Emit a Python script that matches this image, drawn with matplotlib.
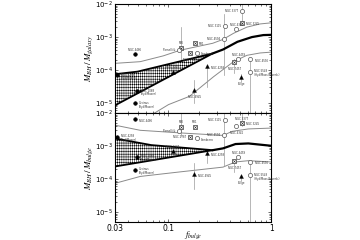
#!/usr/bin/env python3
"""Black hole to galaxy / bulge mass ratio versus bulge fraction (two stacked panels)."""

import matplotlib
matplotlib.use("Agg")
import matplotlib.pyplot as plt
import numpy as np

plt.rcParams["mathtext.fontset"] = "stix"
plt.rcParams["hatch.linewidth"] = 0.35

# ---- model curves, top panel (M_BH / M_galaxy) ----
top_upper_f = [0.03, 0.053, 0.089, 0.13, 0.27, 0.34, 0.43, 0.58, 0.78, 1.0]
top_upper_m = [1.6e-4, 1.8e-4, 2.7e-4, 4.0e-4, 6.5e-4, 8.5e-4, 1.3e-3, 2.0e-3, 2.5e-3, 2.7e-3]
top_lower_f = [0.065, 0.1, 0.16, 0.275, 0.43, 0.58, 0.78, 1.0]
top_lower_m = [4.0e-6, 9.0e-6, 1.6e-5, 6.3e-5, 1.8e-4, 2.8e-4, 3.3e-4, 3.5e-4]
top_thick_f = [0.27, 0.34, 0.47, 0.65, 0.84, 1.0]
top_thick_m = [3.2e-4, 4.2e-4, 7.2e-4, 1.0e-3, 1.15e-3, 1.17e-3]
top_hatch_f = [0.03, 0.05, 0.27, 0.03]
top_hatch_m = [7.5e-5, 9.0e-5, 3.2e-4, 8.5e-6]

# ---- model curves, bottom panel (M_BH / M_bulge) ----
bot_upper_f = [0.03, 0.053, 0.13, 0.34, 0.42, 0.6, 1.0]
bot_upper_m = [4.3e-3, 3.0e-3, 2.5e-3, 2.1e-3, 2.8e-3, 3.3e-3, 3.5e-3]
bot_lower_f = [0.03, 0.053, 0.13, 0.34, 0.45, 0.6, 1.0]
bot_lower_m = [7.4e-5, 1.2e-4, 1.65e-4, 2.3e-4, 3.3e-4, 3.6e-4, 3.3e-4]
bot_thick_f = [0.27, 0.34, 0.45, 0.6, 1.0]
bot_thick_m = [7.5e-4, 8.5e-4, 1.15e-3, 1.2e-3, 1.02e-3]
bot_hatch_f = [0.03, 0.068, 0.27, 0.03]
bot_hatch_m = [1.7e-3, 1.07e-3, 7.5e-4, 2.4e-4]

# ---- galaxies ----
names = ["NGC 4486", "NGC 4258\n(Hyd/Maser)", "NGC 1068\n(Hyd/Maser)", "Circinus\n(Hyd/Maser)",
         "NGC 3227", "MW", "Pomelli &", "M81", "NGC 2787", "Sombrero", "NGC 4258", "NGC 4945",
         "NGC 4594", "NGC 3115", "NGC 4342", "NGC 3245", "NGC 3377", "NGC 4459", "NGC 7457",
         "NGC 4596", "NGC 5548\n(Hyd/Mass Reverb.)", "Bulge"]
kinds = ["fc", "fc", "fc", "fc", "tri", "bx", "oc", "bx", "bx", "oc", "tri", "tri",
         "oc", "oc", "oc", "bx", "oc", "oc", "bx", "oc", "oc", "tri"]
f_bulge = [0.047, 0.0314, 0.049, 0.0467, 0.11, 0.132, 0.127, 0.181, 0.162, 0.19, 0.237, 0.178,
           0.347, 0.356, 0.46, 0.52, 0.52, 0.48, 0.44, 0.63, 0.62, 0.51]
m_gal = [3.0e-4, 7.1e-5, 2.3e-5, 9.8e-6, 9.0e-5, 4.8e-4, 4.2e-4, 6.8e-4, 3.2e-4, 3.3e-4, 1.3e-4, 2.5e-5,
         8.5e-4, 2.1e-3, 1.7e-3, 2.7e-3, 6.3e-3, 2.1e-4, 1.7e-4, 2.1e-4, 8.9e-5, 6.0e-5]
m_gal_lo = [None, None, None, None, None, 2.0e-4, None, None, None, None, 3.0e-5, 1.0e-5,
            7.0e-5, None, None, None, 3.0e-3, None, 8.0e-5, None, 4.0e-6, 4.5e-5]
m_gal_hi = [None, None, None, None, None, 2.0e-3, None, None, None, None, 1.3e-4, 5.0e-5,
            5.0e-3, None, None, None, 1.0e-2, None, 2.2e-4, None, 2.1e-4, 7.5e-5]
m_bul = [6.4e-3, 1.9e-3, 4.8e-4, 1.9e-4, 7.0e-4, 3.9e-3, 2.8e-3, 3.9e-3, 1.9e-3, 1.7e-3, 6.0e-4, 1.4e-4,
         2.1e-3, 6.1e-3, 4.0e-3, 5.1e-3, 5.1e-3, 4.5e-4, 3.5e-4, 3.3e-4, 1.3e-4, 1.2e-4]
m_bul_lo = [None, None, None, None, None, 2.0e-3, None, None, None, None, 3.0e-4, 5.0e-5,
            2.5e-4, None, None, None, 4.0e-3, None, 1.6e-4, None, 4.0e-6, 9.0e-5]
m_bul_hi = [None, None, None, None, None, 1.0e-2, None, None, None, None, 6.0e-4, 3.0e-4,
            1.0e-2, None, None, None, 1.0e-2, None, 3.5e-4, None, 3.3e-4, 1.2e-4]

# label placement (r = right, l = left, a = above, b = below)
side_top = ["a", "r", "r", "r", "a", "a", "l", "r", "b", "r", "r", "b",
            "l", "l", "a", "r", "l", "a", "b", "r", "r", "b"]
side_bot = ["r", "r", "r", "r", "a", "a", "l", "a", "l", "r", "r", "r",
            "l", "l", "b", "r", "a", "a", "b", "r", "r", "b"]

MARKERS = {
    "fc": dict(marker="o", ms=2.6, mfc="black", mec="black", mew=0.4),
    "oc": dict(marker="o", ms=3.0, mfc="white", mec="#555555", mew=0.5),
    "tri": dict(marker="^", ms=2.8, mfc="black", mec="black", mew=0.3),
    "bx": dict(marker="s", ms=2.8, mfc="white", mec="#333333", mew=0.5),
}
OFFSETS = {"r": (3, -1, "left"), "l": (-3, 0, "right"), "a": (0, 3, "center"), "b": (0, -5, "center")}


def draw_panel(ax, upper, lower, thick, hatch, m, lo, hi, sides):
    ax.set_xscale("log")
    ax.set_yscale("log")
    ax.set_xlim(0.03, 1.0)
    ax.set_ylim(5e-6, 1e-2)

    ax.fill(hatch[0], hatch[1], facecolor="white", edgecolor="black",
            hatch="|" * 8 + "-" * 6, lw=1.3, zorder=2)
    ax.plot(upper[0], upper[1], color="#8a8a8a", lw=0.7, zorder=1)
    ax.plot(lower[0], lower[1], color="#8a8a8a", lw=0.7, zorder=1)
    ax.plot(thick[0], thick[1], color="black", lw=1.6, zorder=3)

    for i, name in enumerate(names):
        if lo[i] is not None:
            ax.plot([f_bulge[i], f_bulge[i]], [lo[i], hi[i]], color="#9a9a9a", lw=0.5, zorder=1)
        ax.plot(f_bulge[i], m[i], ls="none", zorder=4, **MARKERS[kinds[i]])
        if kinds[i] == "bx":
            ax.plot(f_bulge[i], m[i], ls="none", marker="x", ms=1.8, mec="#333333", mew=0.4, zorder=5)
        dx, dy, ha = OFFSETS[sides[i]]
        ax.annotate(name, (f_bulge[i], m[i]), xytext=(dx, dy), textcoords="offset points",
                    fontsize=1.9, ha=ha, va="center", color="#333333", linespacing=0.9, zorder=5)

    ax.tick_params(which="both", direction="in", top=True, right=True, width=0.4)
    ax.tick_params(which="major", length=2.5, labelsize=5, pad=1.5)
    ax.tick_params(which="minor", length=1.3)
    for s in ax.spines.values():
        s.set_linewidth(0.8)


fig = plt.figure(figsize=(3.6, 2.4), dpi=100)
ax_top = fig.add_axes([0.319, 0.529, 0.434, 0.454])
ax_bot = fig.add_axes([0.319, 0.075, 0.434, 0.454])

draw_panel(ax_top, (top_upper_f, top_upper_m), (top_lower_f, top_lower_m),
           (top_thick_f, top_thick_m), (top_hatch_f, top_hatch_m),
           m_gal, m_gal_lo, m_gal_hi, side_top)
draw_panel(ax_bot, (bot_upper_f, bot_upper_m), (bot_lower_f, bot_lower_m),
           (bot_thick_f, bot_thick_m), (bot_hatch_f, bot_hatch_m),
           m_bul, m_bul_lo, m_bul_hi, side_bot)

for ax in (ax_top, ax_bot):
    ax.set_xticks([0.03, 0.1, 1.0])
    ax.set_yticks([1e-5, 1e-4, 1e-3, 1e-2])
ax_top.set_xticklabels([])
ax_bot.set_xticklabels(["0.03", "0.1", "1"], fontsize=5.5)

ax_top.set_ylabel(r"$M_{BH}\,/\,M_{galaxy}$", fontsize=6.5)
ax_bot.set_ylabel(r"$M_{BH}\,/\,M_{bulge}$", fontsize=6.5)
ax_top.yaxis.set_label_coords(-0.13, 0.5)
ax_bot.yaxis.set_label_coords(-0.13, 0.5)
ax_bot.set_xlabel(r"$f_{bulge}$", fontsize=6)
ax_bot.xaxis.set_label_coords(0.5, -0.065)

fig.savefig("out.png", dpi=100)
plt.close(fig)
